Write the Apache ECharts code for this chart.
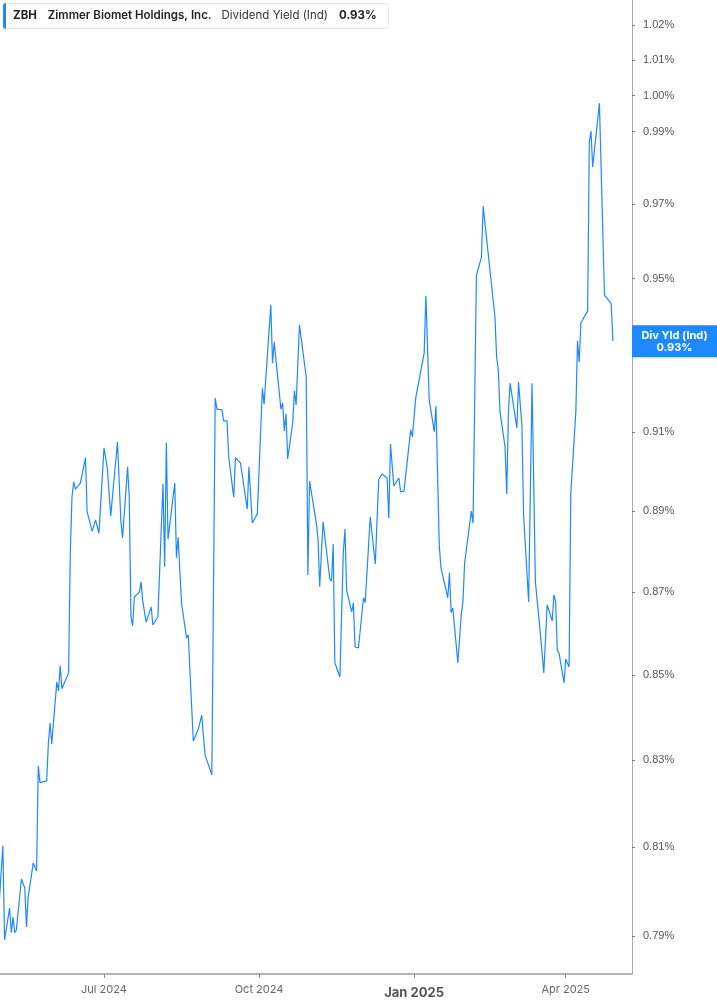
<!DOCTYPE html>
<html>
<head>
<meta charset="utf-8">
<script src="https://cdn.jsdelivr.net/npm/echarts@6/dist/echarts.min.js"></script>
<style>
  html, body { margin: 0; padding: 0; background: #fff; }
  #main { width: 717px; height: 1005px; }
</style>
</head>
<body>
<div id="main"></div>
<script>
// ZBH dividend yield (ind), %
var dates = [
  '2024-04-30','2024-05-02','2024-05-03','2024-05-06','2024-05-07','2024-05-08','2024-05-09','2024-05-10',
  '2024-05-13','2024-05-15','2024-05-16','2024-05-17','2024-05-20','2024-05-21','2024-05-22','2024-05-23',
  '2024-05-24','2024-05-28','2024-05-29','2024-05-30','2024-05-31','2024-06-03','2024-06-04','2024-06-05',
  '2024-06-06','2024-06-07','2024-06-10','2024-06-11','2024-06-12','2024-06-13','2024-06-14','2024-06-17',
  '2024-06-20','2024-06-21','2024-06-24','2024-06-26','2024-06-28','2024-07-01','2024-07-03','2024-07-05',
  '2024-07-09','2024-07-11','2024-07-12','2024-07-15','2024-07-16','2024-07-17','2024-07-18','2024-07-19',
  '2024-07-22','2024-07-23','2024-07-24','2024-07-25','2024-07-26','2024-07-29','2024-07-30','2024-07-31',
  '2024-08-02','2024-08-05','2024-08-06','2024-08-07','2024-08-08','2024-08-12','2024-08-13','2024-08-14',
  '2024-08-16','2024-08-19','2024-08-20','2024-08-23','2024-08-26','2024-08-27','2024-08-28','2024-08-30',
  '2024-09-03','2024-09-05','2024-09-06','2024-09-09','2024-09-10','2024-09-12','2024-09-13','2024-09-16',
  '2024-09-17','2024-09-20','2024-09-24','2024-09-25','2024-09-27','2024-09-30','2024-10-03','2024-10-04',
  '2024-10-08','2024-10-09','2024-10-10','2024-10-14','2024-10-15','2024-10-16','2024-10-17','2024-10-18',
  '2024-10-21','2024-10-22','2024-10-23','2024-10-25','2024-10-29','2024-10-30','2024-10-31','2024-11-04',
  '2024-11-05','2024-11-06','2024-11-08','2024-11-12','2024-11-13','2024-11-14','2024-11-15','2024-11-18',
  '2024-11-20','2024-11-21','2024-11-22','2024-11-25','2024-11-26','2024-11-27','2024-11-29','2024-12-02',
  '2024-12-03','2024-12-04','2024-12-06','2024-12-09','2024-12-11','2024-12-13','2024-12-16','2024-12-17',
  '2024-12-18','2024-12-19','2024-12-20','2024-12-23','2024-12-24','2024-12-26','2024-12-30','2024-12-31',
  '2025-01-02','2025-01-03','2025-01-07','2025-01-08','2025-01-10','2025-01-13','2025-01-14','2025-01-16',
  '2025-01-17','2025-01-21','2025-01-22','2025-01-23','2025-01-24','2025-01-27','2025-01-29','2025-01-30',
  '2025-01-31','2025-02-04','2025-02-05','2025-02-07','2025-02-10','2025-02-11','2025-02-12','2025-02-18',
  '2025-02-19','2025-02-20','2025-02-21','2025-02-24','2025-02-25','2025-02-26','2025-02-27','2025-03-03',
  '2025-03-04','2025-03-06','2025-03-07','2025-03-10','2025-03-12','2025-03-14','2025-03-17','2025-03-19',
  '2025-03-20','2025-03-21','2025-03-24','2025-03-25','2025-03-26','2025-03-27','2025-03-28','2025-03-31',
  '2025-04-01','2025-04-03','2025-04-04','2025-04-07','2025-04-08','2025-04-09','2025-04-10','2025-04-11',
  '2025-04-14','2025-04-15','2025-04-16','2025-04-17','2025-04-21','2025-04-24','2025-04-25','2025-04-28',
  '2025-04-29'
];
var yields = [
  0.7985,0.8102,0.7891,0.7962,0.7907,0.7942,0.7907,0.7913,
  0.8027,0.8007,0.7920,0.7987,0.8063,0.8066,0.8045,0.8286,
  0.8247,0.8251,0.8340,0.8386,0.8337,0.8483,0.8462,0.8522,
  0.8467,0.8469,0.8505,0.8796,0.8935,0.8973,0.8955,0.8970,
  0.9034,0.8898,0.8850,0.8878,0.8845,0.9059,0.9008,0.8888,
  0.9074,0.8878,0.8833,0.9011,0.8935,0.8640,0.8618,0.8688,
  0.8700,0.8725,0.8678,0.8676,0.8627,0.8664,0.8620,0.8620,
  0.8640,0.8968,0.8762,0.9072,0.8830,0.8970,0.8784,0.8835,
  0.8674,0.8589,0.8596,0.8344,0.8372,0.8375,0.8405,0.8311,
  0.8265,0.9187,0.9158,0.9156,0.9128,0.9128,0.9036,0.8935,
  0.9034,0.9021,0.8905,0.9011,0.8870,0.8893,0.9212,0.9171,
  0.9430,0.9277,0.9332,0.9158,0.9174,0.9102,0.9146,0.9031,
  0.9123,0.9205,0.9169,0.9377,0.9241,0.8742,0.8975,0.8870,
  0.8833,0.8713,0.8873,0.8732,0.8727,0.8818,0.8529,0.8495,
  0.8796,0.8855,0.8705,0.8652,0.8674,0.8567,0.8565,0.8686,
  0.8674,0.8676,0.8885,0.8769,0.8978,0.8993,0.8983,0.8883,
  0.9069,0.9072,0.8963,0.8983,0.8948,0.8950,0.9105,0.9087,
  0.9187,0.9189,0.9303,0.9454,0.9182,0.9100,0.9166,0.8811,
  0.8759,0.8686,0.8747,0.8650,0.8661,0.8529,0.8645,0.8676,
  0.8771,0.8900,0.8870,0.9509,0.9557,0.9695,0.9695,0.9398,
  0.9293,0.9259,0.9151,0.9062,0.8943,0.9151,0.9225,0.9110,
  0.9228,0.9117,0.8890,0.8676,0.9225,0.8725,0.8598,0.8505,
  0.8502,0.8669,0.8630,0.8693,0.8678,0.8558,0.8553,0.8481,
  0.8538,0.8519,0.8943,0.9151,0.9335,0.9280,0.9382,0.9380,
  0.9414,0.9871,0.9901,0.9802,0.9979,0.9456,0.9454,0.9433,
  0.9335
];
var yTicks = [0.79, 0.81, 0.83, 0.85, 0.87, 0.89, 0.91, 0.93, 0.95, 0.97, 0.99, 1.00, 1.01, 1.02];
var xTicks = ['2024-07-01', '2024-10-01', '2025-01-01', '2025-04-01'];
var monthNames = ['Jan','Feb','Mar','Apr','May','Jun','Jul','Aug','Sep','Oct','Nov','Dec'];

function toTime(s) {
  var p = s.split('-');
  return new Date(+p[0], +p[1] - 1, +p[2]).getTime();
}

var blue = '#1e88ff';
var lastVal = yields[yields.length - 1];

var seriesData = [];
for (var i = 0; i < dates.length; i++) {
  seriesData.push([toTime(dates[i]), yields[i]]);
}
var xTickTimes = xTicks.map(toTime);

var myChart = echarts.init(document.getElementById('main'));
var option = {
  animation: false,
  backgroundColor: '#fff',
  title: {
    left: 3,
    top: 3,
    padding: [0, 12, 0, 0],
    backgroundColor: '#fff',
    borderColor: '#e6e6e6',
    borderWidth: 1,
    borderRadius: 3,
    text: '{bar|}{t|ZBH}{n|Zimmer Biomet Holdings, Inc.}{d|Dividend Yield (Ind)}{v|' + lastVal.toFixed(2) + '%}',
    textStyle: {
      rich: {
        bar: { width: 3, height: 26, backgroundColor: blue, borderRadius: [3, 0, 0, 3] },
        t: { fontFamily: 'Inter', fontWeight: 'bold', fontSize: 11.5, color: '#222', padding: [0, 0, 0, 7] },
        n: { fontFamily: 'Inter', fontWeight: 600, fontSize: 11.5, color: '#222', padding: [0, 0, 0, 11] },
        d: { fontFamily: 'Inter', fontWeight: 'normal', fontSize: 11.5, color: '#333', padding: [0, 0, 0, 10] },
        v: { fontFamily: 'Inter', fontWeight: 'bold', fontSize: 11.5, color: '#222', padding: [0, 0, 0, 11] }
      }
    }
  },
  grid: {
    left: 0,
    right: 85,
    top: 0,
    bottom: 31,
    containLabel: false,
    outerBoundsMode: 'none'
  },
  xAxis: {
    type: 'value',
    min: new Date(2024, 3, 30, 7).getTime(),
    max: new Date(2025, 4, 10, 8).getTime(),
    axisLine: { show: true, onZero: false, lineStyle: { color: '#b3b3b3', width: 2 } },
    axisTick: { show: true, length: 4, lineStyle: { color: '#888' }, customValues: xTickTimes },
    splitLine: { show: false },
    axisLabel: {
      customValues: xTickTimes,
      margin: 10,
      fontFamily: 'Inter',
      fontSize: 11,
      color: '#666',
      formatter: function (val) {
        var d = new Date(val);
        var s = monthNames[d.getMonth()] + ' ' + d.getFullYear();
        if (d.getMonth() === 0) return '{b|' + s + '}';
        return s;
      },
      rich: {
        b: { fontFamily: 'Inter', fontWeight: 'bold', fontSize: 13, color: '#555', padding: [3, 0, 0, 0] }
      }
    }
  },
  yAxis: {
    type: 'log',
    logBase: 10,
    position: 'right',
    min: 0.7816,
    max: 1.0272,
    axisLine: { show: true, lineStyle: { color: '#aaa', width: 1 } },
    axisTick: { show: true, length: 3, lineStyle: { color: '#777' }, customValues: yTicks },
    minorTick: { show: false },
    splitLine: { show: false },
    axisLabel: {
      customValues: yTicks,
      margin: 11,
      padding: [5, 0, 0, 0],
      fontFamily: 'Liberation Sans',
      fontSize: 11,
      color: '#555',
      formatter: function (val) { return (+val).toFixed(2) + '%'; }
    }
  },
  series: [{
    name: 'Div Yld (Ind)',
    type: 'line',
    data: seriesData,
    showSymbol: false,
    symbol: 'none',
    lineStyle: { color: blue, width: 1.2 },
    itemStyle: { color: blue },
    markLine: {
      silent: true,
      symbol: 'none',
      lineStyle: { color: 'rgba(0,0,0,0)', width: 1, type: 'solid' },
      data: [{ yAxis: lastVal }],
      label: {
        show: true,
        position: 'end',
        distance: 0,
        offset: [0, -13],
        backgroundColor: blue,
        padding: [4, 0, 4, 0],
        formatter: function () {
          return '{a|Div Yld (Ind)}\n{a|' + lastVal.toFixed(2) + '%}';
        },
        rich: {
          a: { width: 85, align: 'center', color: '#fff', fontFamily: 'Inter', fontWeight: 'bold', fontSize: 11, lineHeight: 12 }
        }
      }
    }
  }]
};
myChart.setOption(option);
</script>
</body>
</html>
